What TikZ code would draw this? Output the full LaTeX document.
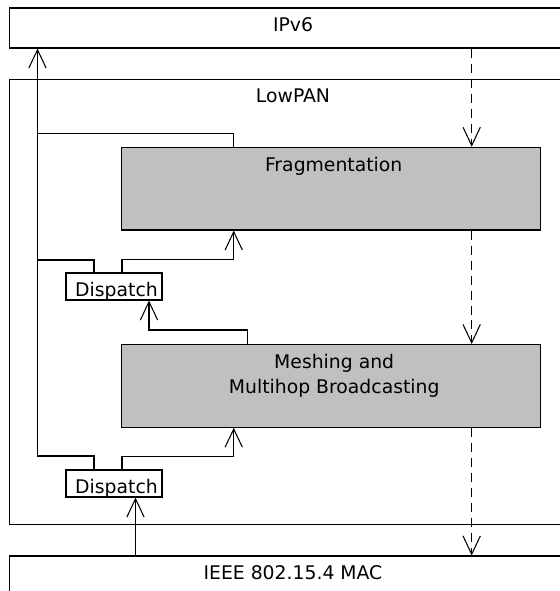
\documentclass[tikz,border=0pt]{standalone}
\usepackage{fontspec}
\setmainfont{DejaVu Sans}
\usetikzlibrary{positioning, arrows.meta, calc}
\definecolor{cBlock}{HTML}{C0C0C0}

\begin{document}
\begin{tikzpicture}[
  x=0.02cm, y=-0.02cm,
  line width=0.6pt,
  font=\fontsize{10.7}{14.2}\selectfont,
  layerbox/.style={
    draw, minimum width=11.28cm, minimum height=#1, inner sep=0pt
  },
  blockbox/.style={
    draw, fill=cBlock, minimum width=8.38cm, minimum height=1.654cm,
    inner sep=0pt
  },
  dispbox/.style={
    draw, fill=white, minimum width=1.92cm, minimum height=0.54cm,
    inner sep=0pt
  },
  boxlabel/.style={anchor=base, inner sep=0pt, align=center},
  flow/.style={-{Straight Barb[length=0.366cm, width=0.346cm]}},
  dflow/.style={flow, dash pattern=on 0.18cm off 0.12cm},
]
\useasboundingbox (0,0) rectangle (560,591);
\clip (0,0) rectangle (560,591);

% layers
\node[layerbox=0.8cm] (ipv6) at (291,28) {};
\node[layerbox=8.92cm, below=0.6cm of ipv6] (lowpan) {};
\node[layerbox=0.8cm, below=0.6cm of lowpan] (mac) {};
\node[boxlabel] (ipv6lbl) at ($(ipv6.north)+(2,24.4)$) {IPv6};
\node[boxlabel] (lowpanlbl) at ($(lowpan.north)+(2,24.4)$) {LowPAN};
\node[boxlabel] (maclbl) at ($(mac.north)+(2,24.4)$) {IEEE 802.15.4 MAC};

% functional blocks
\node[blockbox] (frag) at (331.2,188.65) {};
\node[blockbox, below=2.27cm of frag] (mesh) {};
\node[boxlabel] (fraglbl) at ($(frag.north)+(2.5,24.4)$) {Fragmentation};
% base of a two-line node sits on its last line
\node[boxlabel] (meshlbl) at ($(mesh.north)+(3,49.4)$)
  {Meshing and\\Multihop Broadcasting};

% dispatchers
\node[dispbox] (disp1) at (114,286.5) {};
\node[dispbox, below=3.38cm of disp1] (disp2) {};
\node[boxlabel] (disp1lbl) at ($(disp1.north)+(2.5,24.4)$) {Dispatch};
\node[boxlabel] (disp2lbl) at ($(disp2.north)+(2.5,24.4)$) {Dispatch};

% upward path to IPv6
\coordinate (j1) at (37.5,133.3);
\coordinate (j2) at (37.5,260);
\coordinate (j3) at (37.5,456);
\draw ([xshift=-1.95cm]frag.north) |- (j1);
\draw ([xshift=-0.4cm]disp1.north) |- (j2);
\draw[flow] ([xshift=-0.4cm]disp2.north) |- (j3) -- (j3 |- ipv6.south);

% dispatch into the blocks
\draw[flow] ([xshift=0.16cm]disp1.north) -- ++(0,-13)
  -| ([xshift=-1.95cm]frag.south);
\draw[flow] ([xshift=0.16cm]disp2.north) -- ++(0,-13)
  -| ([xshift=-1.95cm]mesh.south);
\draw[flow] ([xshift=-1.67cm]mesh.north) -- ++(0,-14)
  -| ([xshift=0.7cm]disp1.south);
\coordinate (d2in) at ([xshift=0.43cm]disp2.south);
\draw[flow] (mac.north -| d2in) -- (d2in);

% downward path
\coordinate (dtop) at ([xshift=2.81cm]frag.north);
\draw[dflow] (ipv6.south -| dtop) -- (dtop);
\draw[dflow] ([xshift=2.81cm]frag.south) -- ([xshift=2.81cm]mesh.north);
\draw[dflow] ([xshift=2.81cm]mesh.south) -- (mac.north -| dtop);

\end{tikzpicture}
\end{document}
